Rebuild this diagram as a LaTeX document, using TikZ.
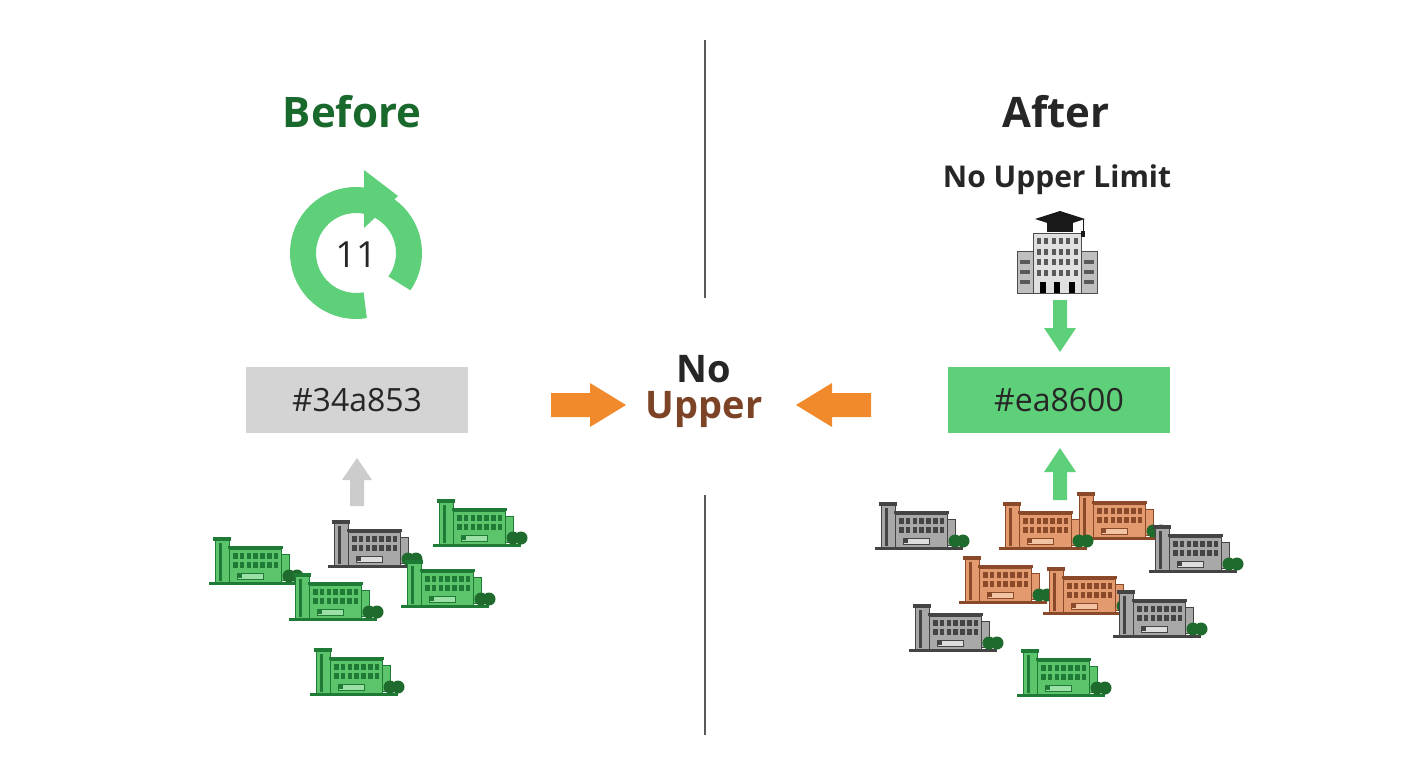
\documentclass[tikz,border=0pt]{standalone}
\usepackage{fontspec}
\setmainfont{Open Sans}
\begin{document}
\definecolor{gfill}{HTML}{5CC46A}\definecolor{gdark}{HTML}{1E7A34}\definecolor{glite}{HTML}{9BE0A5}
\definecolor{yfill}{HTML}{A8A8A8}\definecolor{ydark}{HTML}{444444}\definecolor{ylite}{HTML}{DDDDDD}
\definecolor{ofill}{HTML}{E29A6E}\definecolor{odark}{HTML}{8A4A2A}\definecolor{olite}{HTML}{F2C4A4}
\definecolor{ring}{HTML}{5FD07A}\definecolor{arr}{HTML}{F08A2C}\definecolor{tree}{HTML}{1F6B2E}
\newcommand{\drawbldg}[3]{%
\begin{scope}[shift={(#1,#2)}]
\fill[#3dark] (-4,45) rectangle (84,48);
\fill[#3fill,draw=#3dark,line width=0.8pt] (2,3) rectangle (16,45);
\fill[#3dark] (0,0) rectangle (18,4);
\fill[#3dark] (6,6) rectangle (9,44);
\fill[#3fill,draw=#3dark,line width=0.8pt] (16,12) rectangle (68,45);
\fill[#3dark] (15,9) rectangle (70,12);
\foreach \i in {0,...,6}{\fill[#3dark] (20+\i*6.8,16) rectangle ++(4.5,6);
\fill[#3dark] (20+\i*6.8,25) rectangle ++(4.5,6);}
\fill[#3fill,draw=#3dark,line width=0.6pt] (68,17) rectangle (76,43);
\fill[#3lite,draw=#3dark,line width=0.5pt] (24,36) rectangle (50,42);
\fill[#3dark] (25,37) rectangle (29,41);
\fill[tree] (76,39) circle (6.5) (84,39) circle (6.5);
\end{scope}}
\begin{tikzpicture}[x=1pt,y=-1pt,
 title/.style={font=\bfseries\fontsize{42}{48}\selectfont},
 box/.style={minimum width=222pt,minimum height=66pt,inner sep=0pt,font=\fontsize{32}{36}\selectfont,text=black!85},
 div/.style={draw=black!65,line width=1.6pt}]
\useasboundingbox (0,0) rectangle (1408,768);
\fill[white] (0,0) rectangle (1408,768);
% dividers
\coordinate (d1) at (705,40);\coordinate (d2) at (705,298);
\coordinate (d3) at (705,495);\coordinate (d4) at (705,735);
\draw[div] (d1)--(d2); \draw[div] (d3)--(d4);
% titles
\node[title,text=gdark!85!black] (before) at (352,112) {Before};
\node[title,text=black!85] (after) at (1056,112) {After};
\node[font=\bfseries\fontsize{30}{34}\selectfont,text=black!85] (nul) at (1057,180) {No Upper Limit};
% cycle icon
\draw[ring,line width=26pt] (356,253) ++(35:53) arc[start angle=35,end angle=-280,radius=53];
\fill[ring] (364,170) -- (398,196) -- (364,228) -- cycle;
\node[font=\fontsize{36}{40}\selectfont,text=black!85] (eleven) at (356,255) {11};
% boxes
\node[box,fill=black!17] (b1) at (357,400) {\#34a853};
\node[box,fill=ring] (b2) at (1059,400) {\#ea8600};
% center
\node[font=\bfseries\fontsize{38}{42}\selectfont,text=black!85] (no) at (704,369) {No};
\node[font=\bfseries\fontsize{38}{42}\selectfont,text=odark!90!black] (up) at (704,409) {Upper};
% block arrows
\fill[arr] (551,393)--(590,393)--(590,383)--(626,405)--(590,427)--(590,417)--(551,417)--cycle;
\fill[arr] (871,393)--(832,393)--(832,383)--(796,405)--(832,427)--(832,417)--(871,417)--cycle;
\fill[black!20] (350,506)--(350,480)--(342,480)--(357,458)--(372,480)--(364,480)--(364,506)--cycle;
\fill[ring] (1053,500)--(1053,472)--(1044,472)--(1060,448)--(1076,472)--(1067,472)--(1067,500)--cycle;
\fill[ring] (1053,300)--(1053,328)--(1044,328)--(1060,352)--(1076,328)--(1067,328)--(1067,300)--cycle;
% school icon
\begin{scope}[draw=black!70,line width=0.7pt]
\filldraw[fill=black!25] (1017,251) rectangle (1033,293);
\filldraw[fill=black!25] (1081,251) rectangle (1097,293);
\filldraw[fill=black!12] (1033,233) rectangle (1081,293);
\foreach \i in {0,...,5}{\foreach \j in {0,...,3}{\fill[black!65] (1037+\i*7.3,238+\j*10.5) rectangle ++(4,6);}}
\foreach \j in {0,1,2}{\fill[black!65] (1020,260+\j*10) rectangle ++(10,4);\fill[black!65] (1084,260+\j*10) rectangle ++(10,4);}
\fill[black] (1040,282) rectangle ++(6,11);\fill[black] (1054,282) rectangle ++(6,11);\fill[black] (1069,282) rectangle ++(6,11);
\end{scope}
\fill[black!90] (1035,219)--(1060,211)--(1085,219)--(1060,227)--cycle;
\fill[black!90] (1047,222) rectangle (1073,232);
\draw[black!90,line width=1pt] (1083,219)--(1083,232);
\fill[black!90] (1081,231) rectangle (1085,237);
% buildings left
\drawbldg{437}{499}{g}
\drawbldg{332}{520}{y}
\drawbldg{213}{537}{g}
\drawbldg{405}{560}{g}
\drawbldg{293}{573}{g}
\drawbldg{314}{648}{g}
% buildings right
\drawbldg{1077}{492}{o}
\drawbldg{879}{502}{y}
\drawbldg{1003}{502}{o}
\drawbldg{1153}{525}{y}
\drawbldg{963}{556}{o}
\drawbldg{1047}{567}{o}
\drawbldg{1117}{590}{y}
\drawbldg{913}{604}{y}
\drawbldg{1021}{649}{g}
\end{tikzpicture}
\end{document}
